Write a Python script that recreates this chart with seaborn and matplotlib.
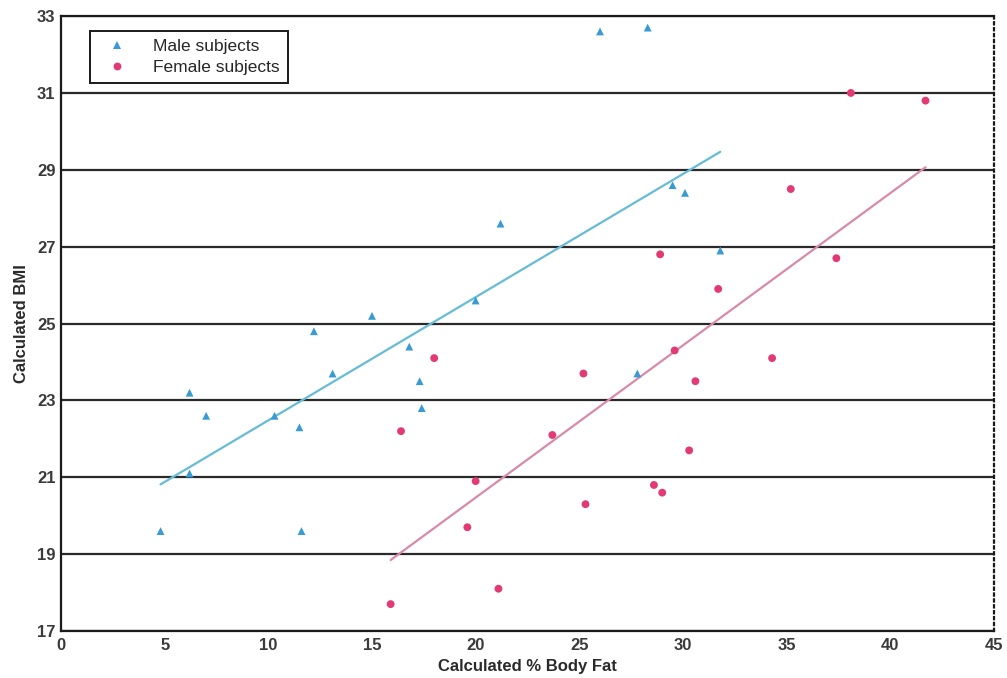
import numpy as np
import pandas as pd
import matplotlib
matplotlib.use("Agg")
import matplotlib.pyplot as plt
import seaborn as sns

# values
male_fat = [4.8, 6.2, 6.2, 7.0, 10.3, 11.5, 11.6, 12.2, 13.1, 15.0, 16.8, 17.3,
            17.4, 20.0, 21.2, 26.0, 28.3, 27.8, 29.5, 30.1, 31.8]
male_bmi = [19.6, 23.2, 21.1, 22.6, 22.6, 22.3, 19.6, 24.8, 23.7, 25.2, 24.4, 23.5,
            22.8, 25.6, 27.6, 32.6, 32.7, 23.7, 28.6, 28.4, 26.9]
female_fat = [15.9, 16.4, 18.0, 20.0, 19.6, 21.1, 23.7, 25.2, 25.3, 28.6, 29.0,
              28.9, 29.6, 30.6, 30.3, 31.7, 34.3, 35.2, 37.4, 38.1, 41.7]
female_bmi = [17.7, 22.2, 24.1, 20.9, 19.7, 18.1, 22.1, 23.7, 20.3, 20.8, 20.6,
              26.8, 24.3, 23.5, 21.7, 25.9, 24.1, 28.5, 26.7, 31.0, 30.8]
groups = ["Male subjects", "Female subjects"]
y_ticks = [17, 19, 21, 23, 25, 27, 29, 31, 33]
x_ticks = [0, 5, 10, 15, 20, 25, 30, 35, 40, 45]

PALETTE = {"Male subjects": "#3a9bd4", "Female subjects": "#e23a72"}
LINE_COLORS = {"Male subjects": "#66bcd6", "Female subjects": "#d98aa8"}
MARKERS = {"Male subjects": "^", "Female subjects": "o"}

df = pd.DataFrame({
    "fat": male_fat + female_fat,
    "bmi": male_bmi + female_bmi,
    "group": [groups[0]] * len(male_fat) + [groups[1]] * len(female_fat),
})

sns.set_style("white")
plt.rcParams["font.family"] = ["Liberation Sans", "DejaVu Sans"]

fig = plt.figure(figsize=(10.07, 6.78), dpi=100)
ax = fig.add_axes([0.0606, 0.0693, 0.9264, 0.907])

# horizontal grid lines
for yv in y_ticks:
    ax.axhline(yv, color="#2a2a2a", lw=1.6, zorder=1)

# fitted lines per group
for g in groups:
    sns.regplot(data=df[df.group == g], x="fat", y="bmi", ci=None,
                scatter=False, truncate=True, ax=ax,
                line_kws={"color": LINE_COLORS[g], "lw": 1.6, "zorder": 2})

sns.scatterplot(data=df, x="fat", y="bmi", hue="group", style="group",
                palette=PALETTE, markers=MARKERS, s=32, linewidth=0,
                ax=ax, zorder=3)

ax.set_xlim(0, 45)
ax.set_ylim(17, 33)
ax.set_xticks(x_ticks)
ax.set_yticks(y_ticks)
ax.tick_params(axis="both", labelsize=12, colors="#3a3a3a", length=3,
               width=1, direction="out", pad=1)
ax.tick_params(axis="x", length=0, pad=5)
for lbl in ax.get_xticklabels() + ax.get_yticklabels():
    lbl.set_fontweight("bold")

ax.set_xlabel("Calculated % Body Fat", fontsize=12, fontweight="bold",
              color="#2a2a2a", labelpad=4)
ax.set_ylabel("Calculated BMI", fontsize=12, fontweight="bold",
              color="#2a2a2a", labelpad=6)

for side in ["left", "bottom", "top"]:
    ax.spines[side].set_color("#1a1a1a")
    ax.spines[side].set_linewidth(1.6)
ax.spines["right"].set_linestyle(":")
ax.spines["right"].set_color("#1a1a1a")
ax.spines["right"].set_linewidth(1.6)

handles, labels = ax.get_legend_handles_labels()
leg = ax.legend(handles, labels, loc="upper left",
                bbox_to_anchor=(0.031, 0.976), fontsize=12.5, frameon=True,
                fancybox=False, edgecolor="#1a1a1a", framealpha=1,
                handletextpad=1.0, borderpad=0.45, labelspacing=0.35,
                borderaxespad=0, handlelength=2.2)
leg.get_frame().set_linewidth(1.4)

fig.savefig("out.png", dpi=100)
